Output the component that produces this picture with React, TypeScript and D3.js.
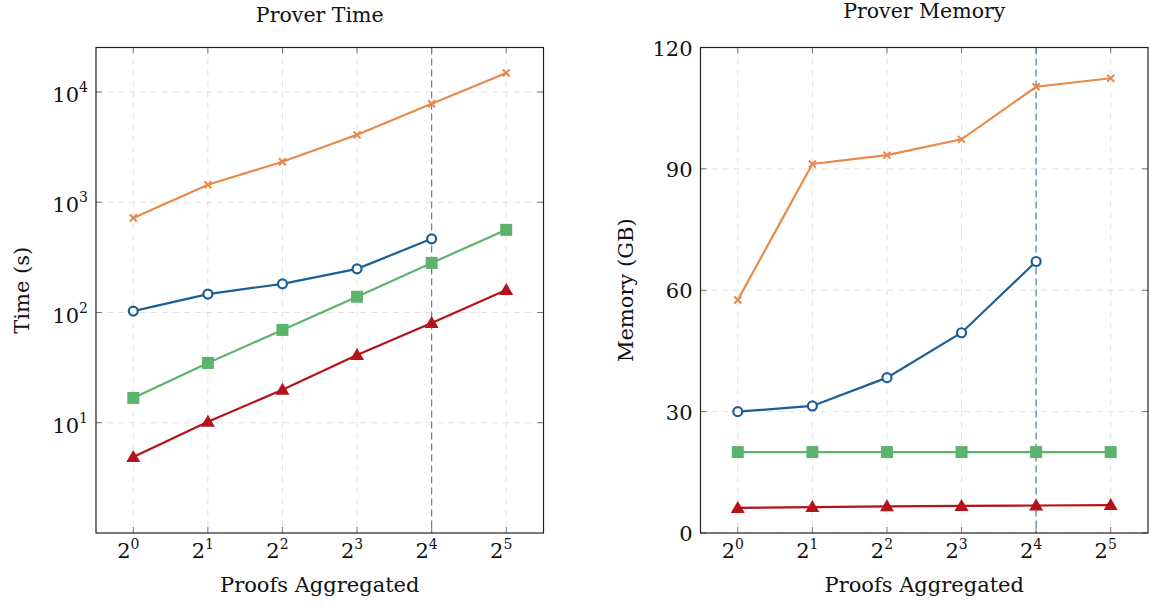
import React, { useEffect, useRef } from "react";
import * as d3 from "d3";

const exponents = [0, 1, 2, 3, 4, 5];
const seriesNames = ["orange", "blue", "green", "red"];

// prover time (s)
const timeOrange = [721, 1440, 2330, 4090, 7820, 14900];
const timeBlue = [103, 147, 182, 249, 466];
const timeGreen = [16.8, 34.9, 69.5, 139, 282, 562];
const timeRed = [4.9, 10.2, 19.9, 41.2, 80.5, 160];

// prover memory (GB)
const memOrange = [57.6, 91.2, 93.4, 97.3, 110.3, 112.4];
const memBlue = [30.0, 31.4, 38.4, 49.5, 67.1];
const memGreen = [20, 20, 20, 20, 20, 20];
const memRed = [6.2, 6.4, 6.6, 6.7, 6.8, 6.9];

const timeTicks = [1, 2, 3, 4];
const memTicks = [0, 30, 60, 90, 120];

const colors = {
  orange: "#e8894a",
  blue: "#1c5f97",
  green: "#5cb36d",
  red: "#b5121b",
};

const font = "'DejaVu Serif', serif";

const App = () => {
  const svgRef = useRef(null);
  const width = 1151;
  const height = 608;

  useEffect(() => {
    const svg = d3.select(svgRef.current);
    svg.selectAll("*").remove();

    const top = 47.5;
    const bottom = 533;

    const panel = (opts) => {
      const { left, right, y, yTicks, yLabelFn, data, title, titleY, ylabel, ylabelX } = opts;
      const x = d3.scaleLinear().domain([-0.5, 5.5]).range([left, right]);
      const g = svg.append("g");

      // grid
      g.append("g")
        .selectAll("line")
        .data(exponents)
        .join("line")
        .attr("x1", (d) => x(d))
        .attr("x2", (d) => x(d))
        .attr("y1", top)
        .attr("y2", bottom)
        .attr("stroke", "#e3e3e3")
        .attr("stroke-dasharray", "6,5");
      g.append("g")
        .selectAll("line")
        .data(yTicks)
        .join("line")
        .attr("x1", left)
        .attr("x2", right)
        .attr("y1", (d) => y(d))
        .attr("y2", (d) => y(d))
        .attr("stroke", "#e3e3e3")
        .attr("stroke-dasharray", "6,5");

      // highlight at 2^4
      g.append("line")
        .attr("x1", x(4))
        .attr("x2", x(4))
        .attr("y1", top)
        .attr("y2", bottom)
        .attr("stroke", "#4f86b5")
        .attr("stroke-width", 1.2)
        .attr("stroke-dasharray", "7,4");

      // ticks (inside, all sides)
      const tk = g.append("g").attr("stroke", "#777").attr("stroke-width", 1);
      exponents.forEach((d) => {
        tk.append("line").attr("x1", x(d)).attr("x2", x(d)).attr("y1", bottom).attr("y2", bottom - 6);
        tk.append("line").attr("x1", x(d)).attr("x2", x(d)).attr("y1", top).attr("y2", top + 6);
      });
      yTicks.forEach((d) => {
        tk.append("line").attr("x1", left).attr("x2", left + 6).attr("y1", y(d)).attr("y2", y(d));
        tk.append("line").attr("x1", right).attr("x2", right - 6).attr("y1", y(d)).attr("y2", y(d));
      });

      // lines and markers
      const line = d3
        .line()
        .x((d, i) => x(exponents[i]))
        .y((d) => y(d));

      data.forEach((vals, si) => {
        const name = seriesNames[si];
        const c = colors[name];
        g.append("path")
          .attr("d", line(vals))
          .attr("fill", "none")
          .attr("stroke", c)
          .attr("stroke-width", 2.2);
        const m = g.append("g");
        vals.forEach((v, i) => {
          const cx = x(exponents[i]);
          const cy = y(v);
          if (name === "orange") {
            const s = 3.5;
            m.append("path")
              .attr("d", `M${cx - s},${cy - s}L${cx + s},${cy + s}M${cx - s},${cy + s}L${cx + s},${cy - s}`)
              .attr("stroke", c)
              .attr("stroke-width", 2);
          } else if (name === "blue") {
            m.append("circle")
              .attr("cx", cx)
              .attr("cy", cy)
              .attr("r", 4.5)
              .attr("fill", "white")
              .attr("stroke", c)
              .attr("stroke-width", 2.2);
          } else if (name === "green") {
            m.append("rect")
              .attr("x", cx - 6)
              .attr("y", cy - 6)
              .attr("width", 12)
              .attr("height", 12)
              .attr("fill", c);
          } else {
            m.append("path")
              .attr("d", `M${cx},${cy - 7}L${cx + 7},${cy + 5}L${cx - 7},${cy + 5}Z`)
              .attr("fill", c);
          }
        });
      });

      // frame
      g.append("rect")
        .attr("x", left)
        .attr("y", top)
        .attr("width", right - left)
        .attr("height", bottom - top)
        .attr("fill", "none")
        .attr("stroke", "#222")
        .attr("stroke-width", 1.2);

      // x tick labels
      exponents.forEach((d) => {
        const t = g.append("text")
          .attr("x", x(d) - 5)
          .attr("y", 558)
          .attr("text-anchor", "middle")
          .attr("font-family", font)
          .attr("font-size", 21)
          .attr("fill", "#111");
        t.append("tspan").text("2");
        t.append("tspan").attr("dy", -9).attr("font-size", 14).text(d);
      });

      // y tick labels
      yTicks.forEach((d) => {
        yLabelFn(g, left - 8, y(d), d);
      });

      g.append("text")
        .attr("x", (left + right) / 2)
        .attr("y", titleY)
        .attr("text-anchor", "middle")
        .attr("font-family", font)
        .attr("font-size", 20.5)
        .attr("fill", "#111")
        .text(title);

      g.append("text")
        .attr("x", (left + right) / 2)
        .attr("y", 592)
        .attr("text-anchor", "middle")
        .attr("font-family", font)
        .attr("font-size", 21)
        .attr("fill", "#111")
        .text("Proofs Aggregated");

      g.append("text")
        .attr("transform", `translate(${ylabelX},${(top + bottom) / 2}) rotate(-90)`)
        .attr("text-anchor", "middle")
        .attr("font-family", font)
        .attr("font-size", 21)
        .attr("fill", "#111")
        .text(ylabel);
    };

    const yTime = d3.scaleLog().domain([1, Math.pow(10, 4.404)]).range([bottom, top]);
    panel({
      left: 96,
      right: 543.5,
      y: (v) => yTime(v),
      yTicks: timeTicks.map((e) => Math.pow(10, e)),
      yLabelFn: (g, xx, yy, d) => {
        const t = g.append("text")
          .attr("x", xx)
          .attr("y", yy + 10)
          .attr("text-anchor", "end")
          .attr("font-family", font)
          .attr("font-size", 21)
          .attr("fill", "#111");
        t.append("tspan").text("10");
        t.append("tspan").attr("dy", -10).attr("font-size", 14).text(Math.round(Math.log10(d)));
      },
      data: [timeOrange, timeBlue, timeGreen, timeRed],
      title: "Prover Time",
      titleY: 22,
      ylabel: "Time (s)",
      ylabelX: 29,
    });

    const yMem = d3.scaleLinear().domain([0, 120]).range([bottom, top]);
    panel({
      left: 700.5,
      right: 1148,
      y: (v) => yMem(v),
      yTicks: memTicks,
      yLabelFn: (g, xx, yy, d) => {
        g.append("text")
          .attr("x", xx)
          .attr("y", yy + 8)
          .attr("text-anchor", "end")
          .attr("font-family", font)
          .attr("font-size", 21)
          .attr("fill", "#111")
          .text(d);
      },
      data: [memOrange, memBlue, memGreen, memRed],
      title: "Prover Memory",
      titleY: 18,
      ylabel: "Memory (GB)",
      ylabelX: 633,
    });
  }, []);

  return (
    <svg
      ref={svgRef}
      width={width}
      height={height}
      style={{ position: "absolute", left: 0, top: 0, background: "white" }}
    />
  );
};

export default App;
